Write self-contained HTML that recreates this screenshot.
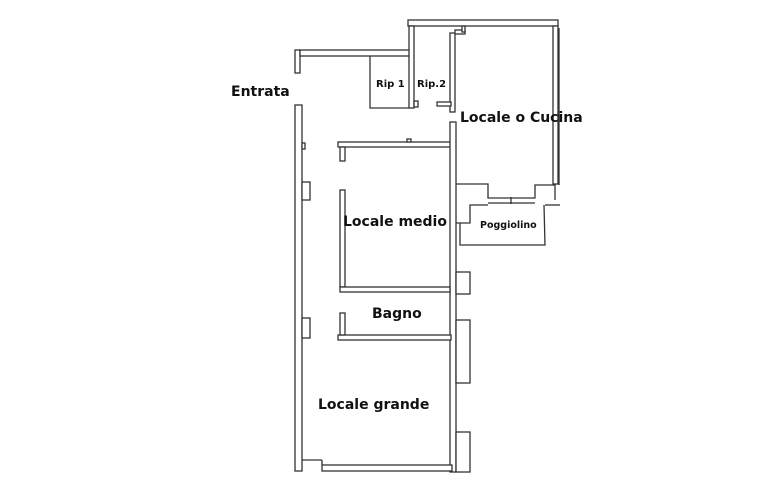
<!DOCTYPE html>
<html><head><style>
body{margin:0;background:#fff;width:764px;height:492px;overflow:hidden}
svg{display:block}
text{font-family:"DejaVu Sans","Liberation Sans",sans-serif;font-weight:bold;fill:#111}
</style></head><body>
<svg width="764" height="492" viewBox="0 0 764 492">
<g fill="#fff" stroke="#333" stroke-width="1.3">
<rect x="295" y="50" width="5" height="23"/>
<rect x="295" y="105" width="7" height="366"/>
<rect x="302" y="182" width="8" height="18"/>
<rect x="302" y="143" width="3" height="6"/>
<rect x="302" y="318" width="8" height="20"/>
<rect x="300" y="50" width="111" height="6"/>
<rect x="408" y="20" width="150" height="6"/>
<rect x="409" y="26" width="5" height="82"/>
<rect x="414" y="101" width="4" height="6"/>
<rect x="553" y="26" width="5" height="158"/>
<rect x="450" y="33" width="5" height="79"/>
<rect x="455" y="30" width="10" height="4"/>
<rect x="462" y="26" width="3" height="6"/>
<rect x="437" y="102" width="14" height="4"/>
<rect x="338" y="142" width="117" height="5"/>
<rect x="340" y="147" width="5" height="14"/>
<rect x="407" y="139" width="4" height="3"/>
<rect x="340" y="190" width="5" height="97"/>
<rect x="450" y="122" width="6" height="350"/>
<rect x="340" y="287" width="110" height="5"/>
<rect x="338" y="335" width="113" height="5"/>
<rect x="340" y="313" width="5" height="22"/>
<rect x="456" y="272" width="14" height="22"/>
<rect x="456" y="320" width="14" height="63"/>
<rect x="456" y="432" width="14" height="40"/>
<rect x="322" y="465" width="130" height="6"/>
</g>
<g fill="none" stroke="#333" stroke-width="1.3">
<line x1="302" y1="460" x2="322" y2="460"/>
<line x1="322" y1="460" x2="322" y2="465"/>
<polyline points="370,56 370,108 409,108"/>
<line x1="559" y1="28" x2="559" y2="185"/>
<polyline points="456,184 488,184 488,198 535,198 535,185 555,185 555,200"/>
<line x1="488" y1="203" x2="535" y2="203"/>
<line x1="511" y1="197" x2="511" y2="204"/>
<polyline points="456,223 470,223 470,205 488,205"/>
<polyline points="544,205 545,245 460,245 460,223"/>
<line x1="545" y1="205" x2="560" y2="205"/>
</g>
<text x="231" y="96" font-size="14">Entrata</text>
<text x="376" y="87" font-size="10">Rip 1</text>
<text x="417" y="87" font-size="10">Rip.2</text>
<text x="460" y="122" font-size="14">Locale o Cucina</text>
<text x="343" y="226" font-size="14">Locale medio</text>
<text x="480" y="228" font-size="9.5">Poggiolino</text>
<text x="372" y="318" font-size="14">Bagno</text>
<text x="318" y="409" font-size="14">Locale grande</text>
</svg>
</body></html>
